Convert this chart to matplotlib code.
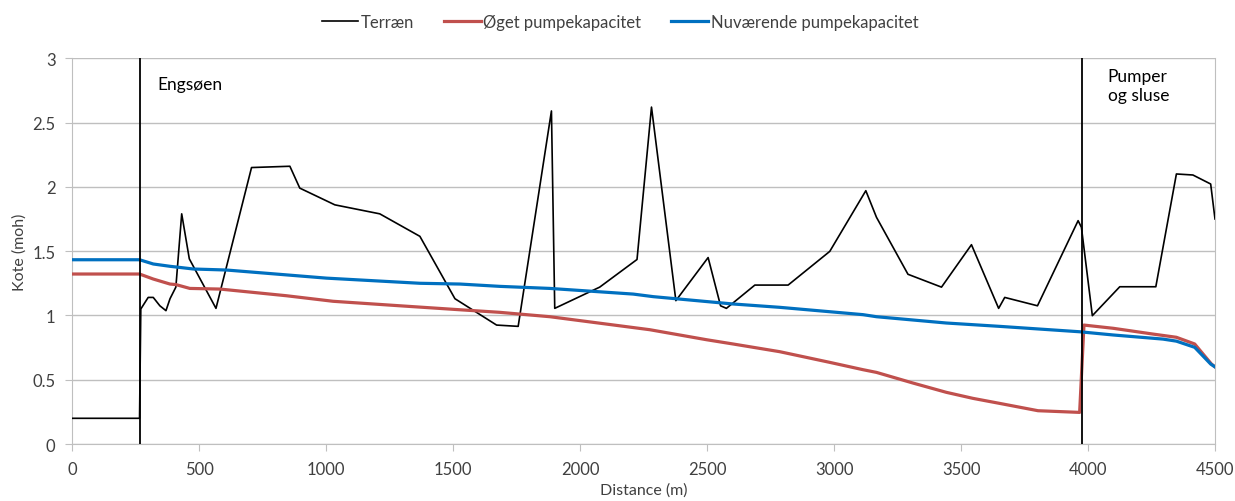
import matplotlib
matplotlib.use("Agg")
import matplotlib.pyplot as plt

# Terræn (afstand i m, kote i moh)
terraen_x = [0, 265, 270, 299, 319, 345, 369, 385, 408, 431, 461, 566, 706, 857, 896,
             1034, 1211, 1369, 1507, 1671, 1756, 1887, 1900, 2077, 2224, 2281, 2377,
             2504, 2553, 2576, 2688, 2819, 2983, 3125, 3167, 3291, 3423, 3541, 3648,
             3672, 3801, 3961, 3974, 4017, 4125, 4267, 4348, 4413, 4483, 4500]
terraen_y = [0.2, 0.2, 1.05, 1.14, 1.14, 1.075, 1.037, 1.13, 1.22, 1.79, 1.44, 1.055,
             2.15, 2.16, 1.99, 1.86, 1.79, 1.615, 1.13, 0.925, 0.915, 2.59, 1.055, 1.22,
             1.435, 2.62, 1.115, 1.45, 1.075, 1.055, 1.236, 1.236, 1.498, 1.97, 1.763,
             1.32, 1.22, 1.55, 1.055, 1.14, 1.075, 1.737, 1.685, 0.998, 1.223, 1.223,
             2.10, 2.092, 2.022, 1.75]

# Øget pumpekapacitet
oget_x = [0, 265, 319, 385, 408, 463, 582, 844, 1027, 1290, 1527, 1684, 1881, 2274,
          2498, 2602, 2786, 2983, 3114, 3167, 3311, 3442, 3547, 3652, 3803, 3967,
          3984, 4099, 4256, 4348, 4420, 4486, 4500]
oget_y = [1.322, 1.322, 1.283, 1.244, 1.24, 1.21, 1.205, 1.153, 1.11, 1.075, 1.044,
          1.024, 0.99, 0.889, 0.811, 0.778, 0.718, 0.635, 0.578, 0.557, 0.474, 0.402,
          0.355, 0.316, 0.259, 0.246, 0.925, 0.9, 0.855, 0.83, 0.778, 0.622, 0.6]

# Nuværende pumpekapacitet
nu_x = [0, 265, 319, 385, 477, 608, 1001, 1369, 1527, 1684, 1881, 2209, 2288, 2602,
        2786, 3114, 3167, 3442, 3652, 3967, 4099, 4295, 4348, 4420, 4483, 4500]
nu_y = [1.433, 1.433, 1.40, 1.382, 1.361, 1.353, 1.29, 1.25, 1.244, 1.226, 1.21,
        1.166, 1.146, 1.089, 1.063, 1.006, 0.99, 0.941, 0.915, 0.873, 0.848, 0.816,
        0.8, 0.752, 0.622, 0.6]

markering_x = [265, 3975]

plt.rcParams['font.family'] = ['Lato', 'DejaVu Sans']
tekstfarve = '#404040'

fig = plt.figure(figsize=(12.35, 5.02), dpi=100)
ax = fig.add_axes([0.0585, 0.1135, 0.9253, 0.7685])

ax.plot(terraen_x, terraen_y, color='black', lw=1.2, label='Terræn', zorder=3)
ax.plot(oget_x, oget_y, color='#C0504D', lw=2.3, label='Øget pumpekapacitet', zorder=4)
ax.plot(nu_x, nu_y, color='#0070C0', lw=2.3, label='Nuværende pumpekapacitet', zorder=4)

for xv in markering_x:
    ax.axvline(xv, color='black', lw=1.3, zorder=5)

ax.text(335, 2.8, 'Engsøen', fontsize=12.5, va='center', ha='left')
ax.text(4078, 2.79, 'Pumper\nog sluse', fontsize=12.5, va='center', ha='left',
        linespacing=1.25)

ax.set_xlim(0, 4500)
ax.set_ylim(0, 3)
ax.set_xticks(range(0, 4501, 500))
ax.set_yticks([0, 0.5, 1, 1.5, 2, 2.5, 3])
ax.set_yticklabels(['0', '0.5', '1', '1.5', '2', '2.5', '3'])
ax.grid(axis='y', color='#BFBFBF', lw=1)
ax.set_axisbelow(True)
for s in ['left', 'bottom', 'right', 'top']:
    ax.spines[s].set_color('#BFBFBF')
ax.spines['top'].set_visible(False)
ax.tick_params(axis='both', colors='#BFBFBF', labelcolor=tekstfarve, labelsize=12,
               length=5)
ax.tick_params(axis='x', pad=7)
ax.tick_params(axis='y', pad=7)

ax.set_xlabel('Distance (m)', fontsize=11.5, labelpad=4, color=tekstfarve)
ax.set_ylabel('Kote (moh)', fontsize=11.5, labelpad=4, color=tekstfarve)

leg = fig.legend(loc='upper center', bbox_to_anchor=(0.502, 1.0), ncol=3, frameon=False,
                 fontsize=12, handlelength=2.2, handletextpad=0.15, columnspacing=1.8)
for t in leg.get_texts():
    t.set_color(tekstfarve)

fig.savefig('out.png', dpi=100)
